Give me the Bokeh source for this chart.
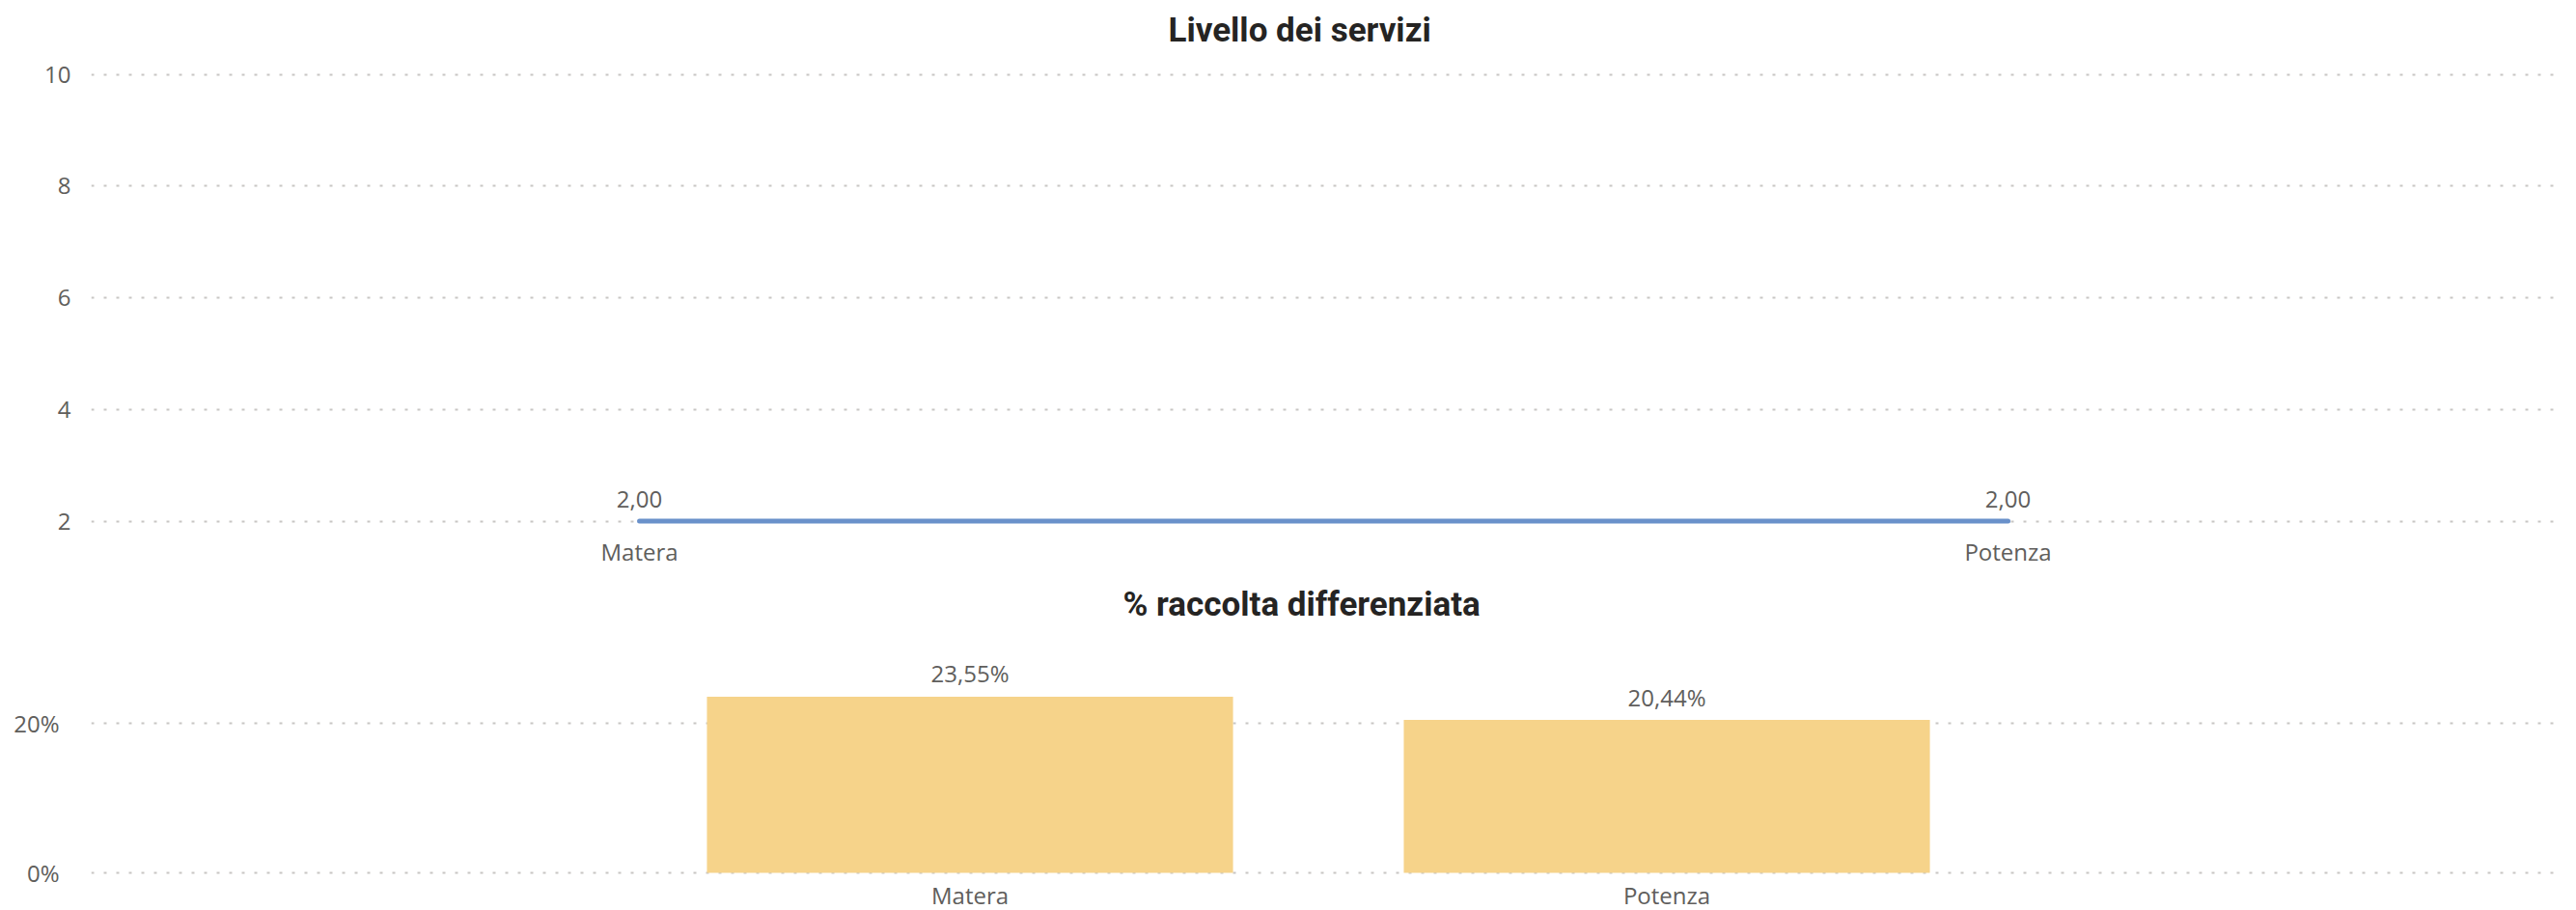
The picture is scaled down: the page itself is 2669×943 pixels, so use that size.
from bokeh.plotting import figure
from bokeh.models import Range1d, FixedTicker, PrintfTickFormatter, ColumnDataSource
from bokeh.layouts import column
from bokeh.embed import file_html
from bokeh.resources import INLINE
from bokeh.core.properties import value

# ---- data ----
cities = ["Matera", "Potenza"]
livello = [2.00, 2.00]
raccolta = [23.55, 20.44]
livello_ticks = [2, 4, 6, 8, 10]
raccolta_ticks = [0, 20]
title_top = "Livello dei servizi"
title_bottom = "% raccolta differenziata"

# ---- style ----
LINE = "#6A91CA"
BAR = "#F6D38A"
GRID = "#C8C6C4"
TXT = "#605E5C"
TITLE = "#252423"
FONT = "Open Sans"
TFONT = "Roboto"
W = 2669
BL = 94   # frame left (both figures, borders are aligned by the layout)
BR = 14   # frame right border

idx = list(range(len(cities)))


def fmt(v, pct=False):
    return f"{v:.2f}".replace(".", ",") + ("%" if pct else "")


def style(p, yticks, title_offset, title_standoff, ystandoff):
    p.outline_line_color = None
    p.xgrid.visible = False
    p.ygrid.ticker = FixedTicker(ticks=yticks)
    p.ygrid.grid_line_color = GRID
    p.ygrid.grid_line_width = 2
    p.ygrid.grid_line_dash = "3 10"
    for ax in p.axis:
        ax.axis_line_color = None
        ax.major_tick_line_color = None
        ax.minor_tick_line_color = None
        ax.major_tick_out = 0
        ax.major_tick_in = 0
        ax.minor_tick_out = 0
        ax.major_label_text_font = FONT
        ax.major_label_text_font_size = "24px"
        ax.major_label_text_color = TXT
    p.yaxis.ticker = FixedTicker(ticks=yticks)
    p.yaxis.major_label_standoff = ystandoff
    p.title.align = "left"
    p.title.offset = title_offset
    p.title.standoff = title_standoff
    p.title.text_font = TFONT
    p.title.text_font_size = "35px"
    p.title.text_font_style = "bold"
    p.title.text_color = TITLE


# ---- top chart: line ----
src1 = ColumnDataSource(dict(x=idx, y=livello, lab=[fmt(v) for v in livello]))
p1 = figure(width=W, height=590, output_backend="svg", toolbar_location=None,
            title=title_top,
            x_range=Range1d(-0.4006, 1.4055), y_range=Range1d(1.889, 10.287),
            min_border_left=BL, min_border_right=BR, min_border_top=60,
            min_border_bottom=44)
p1.line("x", "y", source=src1, line_width=5, line_color=LINE, line_cap="round")
p1.text("x", "y", text="lab", source=src1, y_offset=-23, text_align="center",
        text_baseline="middle", text_font=value(FONT), text_font_size="24px",
        text_color=TXT)
style(p1, livello_ticks, 1116, 17, 21)
p1.xaxis.ticker = FixedTicker(ticks=idx)
p1.xaxis.major_label_overrides = {i: c for i, c in enumerate(cities)}
p1.xaxis.major_label_standoff = 8

# ---- bottom chart: bars ----
src2 = ColumnDataSource(dict(x=idx, top=raccolta, base=[0] * len(cities),
                             lab=[fmt(v, True) for v in raccolta], name=cities))
p2 = figure(width=W, height=353, output_backend="svg", toolbar_location=None,
            title=title_bottom, x_axis_location=None,
            x_range=Range1d(-1.2611, 2.2860), y_range=Range1d(-5.032, 31.484),
            min_border_left=BL, min_border_right=BR, min_border_top=70,
            min_border_bottom=0)
p2.vbar(x="x", top="top", bottom="base", width=0.755, source=src2,
        fill_color=BAR, line_color=None)
p2.text("x", "top", text="lab", source=src2, y_offset=-24, text_align="center",
        text_baseline="middle", text_font=value(FONT), text_font_size="24px",
        text_color=TXT)
p2.text("x", "base", text="name", source=src2, y_offset=23, text_align="center",
        text_baseline="middle", text_font=value(FONT), text_font_size="24px",
        text_color=TXT)
style(p2, raccolta_ticks, 1069, 27, 33)
p2.yaxis.formatter = PrintfTickFormatter(format="%d%%")

layout = column(p1, p2)
open("out.html", "w").write(file_html(layout, INLINE))
